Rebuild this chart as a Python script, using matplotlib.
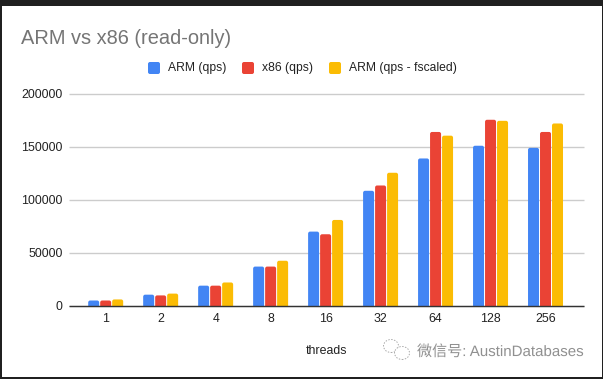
import matplotlib
matplotlib.use("Agg")
import matplotlib.pyplot as plt
from matplotlib.patches import FancyBboxPatch, Rectangle, Ellipse
import matplotlib.patheffects as pe

plt.rcParams['font.family'] = ['Liberation Sans', 'Noto Sans CJK SC', 'DejaVu Sans']

threads = ['1', '2', '4', '8', '16', '32', '64', '128', '256']
arm_qps = [5000, 10500, 19000, 37000, 70000, 108500, 139000, 151000, 149000]
x86_qps = [5000, 9800, 19000, 37000, 67500, 113500, 164000, 175500, 164000]
arm_fscaled = [6000, 11500, 22000, 42500, 81000, 125500, 160500, 174500, 172000]
y_ticks = [0, 50000, 100000, 150000, 200000]

W, H = 603, 379
fig = plt.figure(figsize=(W / 100, H / 100), dpi=100, facecolor='#202020')

# white card over the dark screenshot edge
fig.add_artist(Rectangle((2 / W, 1 - 377 / H), 599.5 / W, 371 / H, transform=fig.transFigure,
                         facecolor='white', edgecolor='none', zorder=-1))

ax = fig.add_axes([68.5 / W, 1 - 305.8 / H, 515 / W, 212 / H], facecolor='none')
step = 55
ax.set_xlim(-37.2 / step, 8 + 38 / step)
ax.set_ylim(0, 200000)

series = [
    (arm_qps, '#4285f4', 'ARM (qps)'),
    (x86_qps, '#ea4335', 'x86 (qps)'),
    (arm_fscaled, '#fbbc04', 'ARM (qps - fscaled)'),
]
bar_w = 11 / step
gap = 12 / step
aspect = (200000 / 212) / (1 / step)
for k, (vals, col, name) in enumerate(series):
    bars = ax.bar([i + (k - 1) * gap for i in range(len(threads))], vals, bar_w, color=col, label=name, zorder=3)
    # rounded tops, bottom corners hang below the axis and get clipped
    for b in bars:
        b.set_visible(False)
        ax.add_patch(FancyBboxPatch((b.get_x(), -4000), b.get_width(), b.get_height() + 4000,
                                    boxstyle='round,pad=0,rounding_size=%f' % (2 / step),
                                    mutation_aspect=aspect, facecolor=col, edgecolor='none', zorder=3))

ax.set_xticks(range(len(threads)))
ax.set_xticklabels(threads)
ax.set_yticks(y_ticks)
ax.tick_params(length=0, labelsize=8.9, colors='#222222')
ax.tick_params(axis='x', pad=5.5)
ax.tick_params(axis='y', pad=4.3)
ax.grid(axis='y', color='#cccccc', lw=1, zorder=0, clip_on=False, solid_capstyle='butt')
ax.set_axisbelow(True)
for s in ['top', 'left', 'right']:
    ax.spines[s].set_visible(False)
ax.spines['bottom'].set_color('#333333')
ax.spines['bottom'].set_linewidth(1)
ax.spines['bottom'].set_capstyle('butt')
ax.spines['bottom'].set_zorder(4)

fig.text(21 / W, 1 - 38.5 / H, 'ARM vs x86 (read-only)', fontsize=14.4, color='#757575', va='center', ha='left')
fig.text(326 / W, 1 - 351 / H, 'threads', fontsize=8.9, color='#222222', va='center', ha='center')

# legend drawn by hand to sit where the original does
for x0, xt, (vals, col, name) in zip([148, 242, 329], [168, 262, 349], series):
    fig.add_artist(FancyBboxPatch((x0, H - 74), 12, 12, boxstyle='round,pad=0,rounding_size=2',
                                  transform=None, facecolor=col, edgecolor='none'))
    fig.text(xt / W, 1 - 68 / H, name, fontsize=8.7, color='#222222', va='center', ha='left')

# watermark
for cx, cy, rx, ry in [(391, 346, 7.5, 6.5), (402, 353, 7.5, 6.5)]:
    fig.add_artist(Ellipse((cx, H - cy), rx * 2, ry * 2, transform=None, facecolor='white',
                           edgecolor='#aaaaaa', lw=0.7, ls=(0, (1.5, 1.5))))
halo = [pe.withStroke(linewidth=1.5, foreground='white')]
fig.text(417 / W, 1 - 352 / H, '微信号: AustinDatabases', fontsize=10.85, color='#909090', va='center', ha='left',
         path_effects=halo)

fig.savefig('out.png', dpi=100, facecolor=fig.get_facecolor())
